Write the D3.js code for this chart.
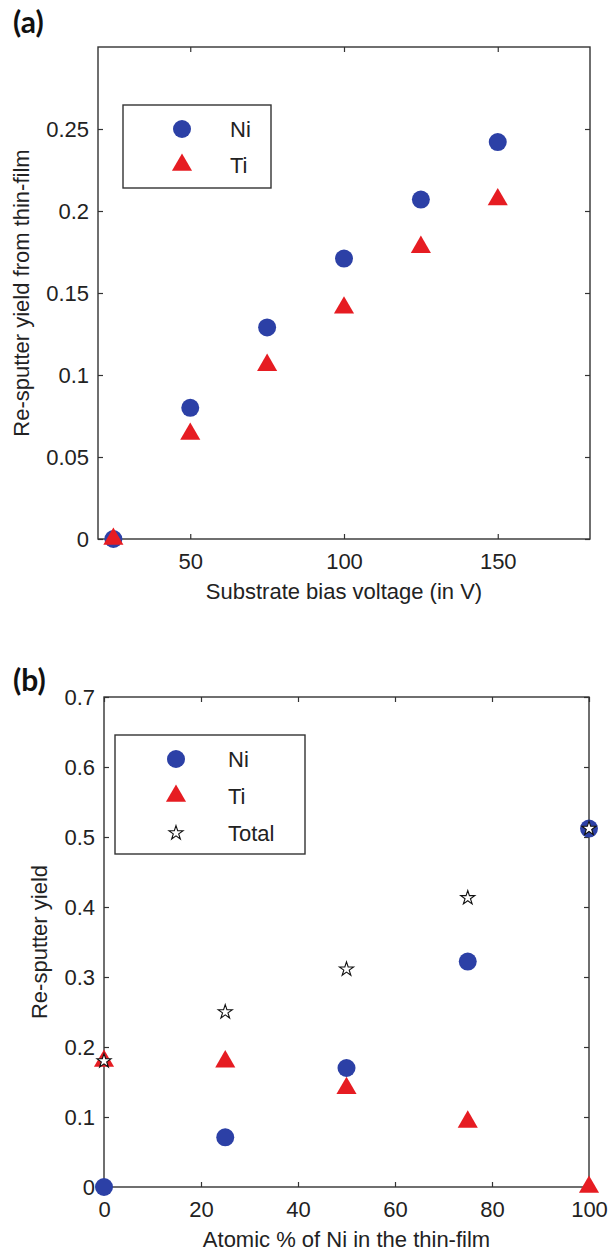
<!DOCTYPE html>
<html>
<head>
<meta charset="utf-8">
<script src="https://cdn.jsdelivr.net/npm/d3@7"></script>
<style>
  body { margin: 0; background: #fff; }
  svg { display: block; }
  text { font-family: "Liberation Sans", Arial, sans-serif; fill: #222; }
  .panel-tag { font-family: Lato, "Open Sans", sans-serif; font-weight: 700; }
</style>
</head>
<body>
<svg id="chart" width="615" height="1253"></svg>
<script>
// Panel (a): re-sputter yield vs substrate bias
const biasVoltage = [25, 50, 75, 100, 125, 150];
const niYieldA = [0, 0.080, 0.129, 0.171, 0.207, 0.242];
const tiYieldA = [0, 0.064, 0.106, 0.141, 0.178, 0.207];
const xTicksA = [50, 100, 150];
const yTicksA = [0, 0.05, 0.1, 0.15, 0.2, 0.25];

// Panel (b): re-sputter yield vs Ni content
const niPercent = [0, 25, 50, 75, 100];
const niYieldB = [0, 0.071, 0.170, 0.322, 0.512];
const tiYieldB = [0.180, 0.179, 0.141, 0.093, 0];
const totalYieldB = [0.180, 0.250, 0.311, 0.413, 0.512];
const xTicksB = [0, 20, 40, 60, 80, 100];
const yTicksB = [0, 0.1, 0.2, 0.3, 0.4, 0.5, 0.6, 0.7];

const NI_COLOR = "#2c40a6";
const TI_COLOR = "#e61c22";
const AXIS_COLOR = "#333";
const FONT_SIZE = 22;

const svg = d3.select("#chart");

const triangle = d3.symbol().type(d3.symbolTriangle).size(175);
const star = d3.symbol().type(d3.symbolStar).size(62);

function drawMarker(g, kind, x, y) {
  if (kind === "circle") {
    g.append("circle").attr("cx", x).attr("cy", y).attr("r", 9)
      .attr("fill", NI_COLOR);
  } else if (kind === "triangle") {
    g.append("path").attr("d", triangle())
      .attr("transform", `translate(${x},${y})`)
      .attr("fill", TI_COLOR);
  } else {
    g.append("path").attr("d", star())
      .attr("transform", `translate(${x},${y})`)
      .attr("fill", "#fff").attr("stroke", "#111").attr("stroke-width", 1.1);
  }
}

function drawPanel(opt) {
  const { box, xDomain, yDomain, xTicks, yTicks, xFormat, yFormat } = opt;
  const x = d3.scaleLinear().domain(xDomain).range([box.left, box.right]);
  const y = d3.scaleLinear().domain(yDomain).range([box.bottom, box.top]);
  const g = svg.append("g");
  const tickLen = 5;

  // axes with inward ticks on all sides
  g.append("g").attr("transform", `translate(0,${box.bottom})`)
    .call(d3.axisBottom(x).tickValues(xTicks).tickFormat(xFormat).tickSize(-tickLen).tickPadding(14));
  g.append("g").attr("transform", `translate(0,${box.top})`)
    .call(d3.axisTop(x).tickValues(xTicks).tickFormat("").tickSize(-tickLen));
  g.append("g").attr("transform", `translate(${box.left},0)`)
    .call(d3.axisLeft(y).tickValues(yTicks).tickFormat(yFormat).tickSize(-tickLen).tickPadding(9));
  g.append("g").attr("transform", `translate(${box.right},0)`)
    .call(d3.axisRight(y).tickValues(yTicks).tickFormat("").tickSize(-tickLen));

  g.selectAll(".domain").remove();
  g.selectAll(".tick line").attr("stroke", AXIS_COLOR).attr("stroke-width", 1.2);
  g.selectAll(".tick text").attr("font-size", FONT_SIZE).attr("fill", "#222");

  g.append("rect")
    .attr("x", box.left).attr("y", box.top)
    .attr("width", box.right - box.left).attr("height", box.bottom - box.top)
    .attr("fill", "none").attr("stroke", AXIS_COLOR).attr("stroke-width", 1.4);

  // axis titles
  g.append("text")
    .attr("x", (box.left + box.right) / 2).attr("y", box.bottom + 60)
    .attr("text-anchor", "middle").attr("font-size", FONT_SIZE)
    .text(opt.xTitle);
  g.append("text")
    .attr("transform", `translate(${opt.yTitleX},${(box.top + box.bottom) / 2}) rotate(-90)`)
    .attr("text-anchor", "middle").attr("font-size", FONT_SIZE)
    .text(opt.yTitle);

  // panel tag
  svg.append("text").attr("class", "panel-tag")
    .attr("x", opt.tag.x).attr("y", opt.tag.y)
    .attr("font-size", 30).style("fill", "#111")
    .text(opt.tag.text);

  // markers
  const marks = g.append("g");
  opt.series.forEach(s => {
    s.values.forEach((v, i) => drawMarker(marks, s.kind, x(s.xs[i]), y(v)));
  });

  // legend
  const lg = g.append("g");
  const L = opt.legend;
  lg.append("rect").attr("x", L.x).attr("y", L.y).attr("width", L.w).attr("height", L.h)
    .attr("fill", "#fff").attr("stroke", AXIS_COLOR).attr("stroke-width", 1.4);
  opt.series.forEach((s, i) => {
    const cy = L.y + L.first + i * L.step;
    drawMarker(lg, s.kind, L.markerX, cy);
    lg.append("text").attr("x", L.textX).attr("y", cy).attr("dy", "0.36em")
      .attr("font-size", FONT_SIZE).text(s.name);
  });
}

drawPanel({
  box: { left: 98, right: 590, top: 47, bottom: 539 },
  xDomain: [20, 180], yDomain: [0, 0.3],
  xTicks: xTicksA, yTicks: yTicksA,
  xFormat: d3.format("d"), yFormat: d => d === 0 ? "0" : String(+d.toFixed(2)),
  xTitle: "Substrate bias voltage (in V)",
  yTitle: "Re-sputter yield from thin-film", yTitleX: 29,
  tag: { text: "(a)", x: 13, y: 33 },
  series: [
    { name: "Ni", kind: "circle", xs: biasVoltage, values: niYieldA },
    { name: "Ti", kind: "triangle", xs: biasVoltage, values: tiYieldA }
  ],
  legend: { x: 123, y: 105, w: 148, h: 83, markerX: 182, textX: 230, first: 24, step: 36 }
});

drawPanel({
  box: { left: 104, right: 589, top: 697, bottom: 1187 },
  xDomain: [0, 100], yDomain: [0, 0.7],
  xTicks: xTicksB, yTicks: yTicksB,
  xFormat: d3.format("d"), yFormat: d => d === 0 ? "0" : String(+d.toFixed(1)),
  xTitle: "Atomic % of Ni in the thin-film",
  yTitle: "Re-sputter yield", yTitleX: 47,
  tag: { text: "(b)", x: 13, y: 691 },
  series: [
    { name: "Ni", kind: "circle", xs: niPercent, values: niYieldB },
    { name: "Ti", kind: "triangle", xs: niPercent, values: tiYieldB },
    { name: "Total", kind: "star", xs: niPercent, values: totalYieldB }
  ],
  legend: { x: 115, y: 735, w: 190, h: 119, markerX: 176, textX: 228, first: 24, step: 37 }
});
</script>
</body>
</html>
